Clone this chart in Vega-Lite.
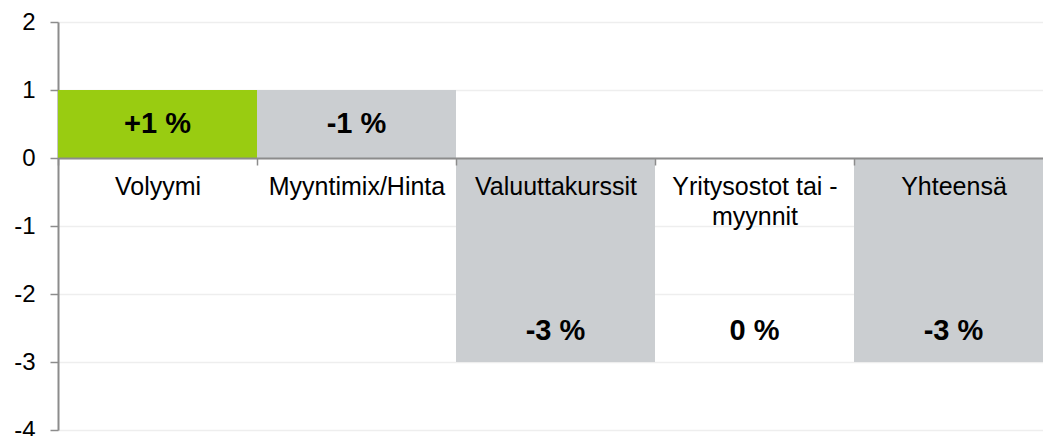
{
  "$schema": "https://vega.github.io/schema/vega-lite/v6.json",
  "width": 995,
  "height": 408,
  "autosize": "none",
  "padding": {"left": 58, "top": 22, "right": 0, "bottom": 6},
  "background": "white",
  "config": {
    "view": {"stroke": null},
    "font": "Liberation Sans"
  },
  "data": {
    "values": [
      {"cat": "Volyymi", "start": 0, "end": 1, "kind": "up", "label": "+1 %", "labelY": 0.5},
      {"cat": "Myyntimix/Hinta", "start": 1, "end": 0, "kind": "down", "label": "-1 %", "labelY": 0.5},
      {"cat": "Valuuttakurssit", "start": 0, "end": -3, "kind": "down", "label": "-3 %", "labelY": -2.55},
      {"cat": "Yritysostot tai - myynnit", "start": -3, "end": -3, "kind": "none", "label": "0 %", "labelY": -2.55},
      {"cat": "Yhteensä", "start": 0, "end": -3, "kind": "down", "label": "-3 %", "labelY": -2.55}
    ]
  },
  "encoding": {
    "x": {
      "field": "cat",
      "type": "nominal",
      "sort": null,
      "scale": {"paddingInner": 0, "paddingOuter": 0},
      "axis": {
        "title": null,
        "orient": "bottom",
        "offset": -272,
        "labelAngle": 0,
        "labelFontSize": 25,
        "labelColor": "#000000",
        "labelFont": "Liberation Sans",
        "labelPadding": 9,
        "labelLineHeight": 30,
        "labelLimit": 0,
        "labelExpr": "datum.label == 'Yritysostot tai - myynnit' ? ['Yritysostot tai -', 'myynnit'] : datum.label",
        "tickBand": "extent",
        "ticks": true,
        "tickSize": 7,
        "tickColor": "#8c8c8c",
        "tickWidth": 1.5,
        "domainColor": "#8c8c8c",
        "domainWidth": 2,
        "grid": false,
        "zindex": 1
      }
    }
  },
  "layer": [
    {
      "mark": {"type": "bar", "strokeWidth": 0},
      "encoding": {
        "y": {
          "field": "start",
          "type": "quantitative",
          "scale": {"domain": [-4, 2], "nice": false, "zero": false},
          "axis": {
            "title": null,
            "values": [-4, -3, -2, -1, 0, 1, 2],
            "labelExpr": "toString(datum.value)",
            "labelFontSize": 24,
            "labelColor": "#000000",
            "labelFont": "Liberation Sans",
            "labelPadding": 15,
            "tickSize": 8,
            "tickColor": "#8c8c8c",
            "tickWidth": 1.5,
            "domainColor": "#8c8c8c",
            "domainWidth": 2,
            "gridColor": "#eeeeee",
            "gridWidth": 1.5
          }
        },
        "y2": {"field": "end"},
        "color": {
          "field": "kind",
          "type": "nominal",
          "scale": {"domain": ["up", "down", "none"], "range": ["#99cc11", "#cbced1", "#ffffff"]},
          "legend": null
        }
      }
    },
    {
      "mark": {"type": "text", "fontWeight": "bold", "fontSize": 29, "font": "Liberation Sans", "color": "#000000", "baseline": "middle"},
      "encoding": {
        "y": {"field": "labelY", "type": "quantitative"},
        "text": {"field": "label"}
      }
    }
  ]
}
